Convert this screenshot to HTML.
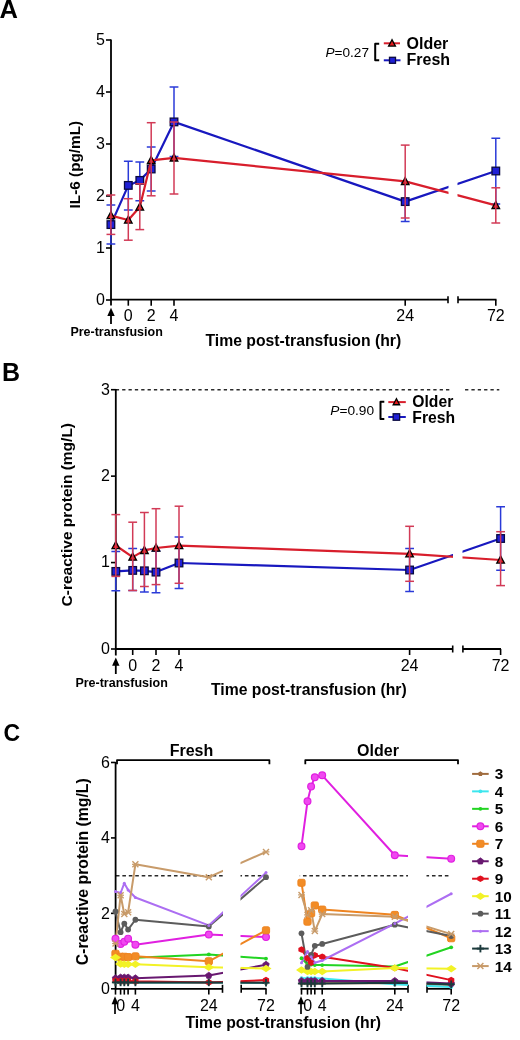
<!DOCTYPE html><html><head><meta charset="utf-8"><style>html,body{margin:0;padding:0;background:#fff;}svg{display:block;filter:blur(0.35px);}text{font-family:"Liberation Sans",sans-serif;}</style></head><body>
<svg width="520" height="1040" viewBox="0 0 520 1040">
<rect width="520" height="1040" fill="#fff"/>
<text x="-0.6" y="18.1" font-size="25.5" text-anchor="start" font-weight="bold" fill="#000"  style="">A</text>
<defs><clipPath id="ca"><rect x="0" y="0" width="448.5" height="1040"/><rect x="457.5" y="0" width="70" height="1040"/></clipPath>
<clipPath id="cb"><rect x="0" y="0" width="453" height="1040"/><rect x="462.5" y="0" width="70" height="1040"/></clipPath><clipPath id="cbd"><rect x="0" y="0" width="451" height="1040"/><rect x="462.8" y="0" width="70" height="1040"/></clipPath>
<clipPath id="cc"><rect x="0" y="0" width="223" height="1040"/><rect x="240.5" y="0" width="27" height="1040"/><rect x="298" y="0" width="110" height="1040"/><rect x="426.5" y="0" width="40" height="1040"/></clipPath><clipPath id="cd"><rect x="0" y="0" width="223" height="1040"/><rect x="240.5" y="0" width="26" height="1040"/><rect x="299.8" y="0" width="108.2" height="1040"/><rect x="426.5" y="0" width="40" height="1040"/></clipPath></defs>
<line x1="111" y1="39.5" x2="111" y2="305.5" stroke="#000" stroke-width="1.8" />
<line x1="106" y1="300" x2="111" y2="300" stroke="#000" stroke-width="1.6" />
<text x="105" y="305.1" font-size="16" text-anchor="end" font-weight="normal" fill="#000"  style="">0</text>
<line x1="106" y1="248" x2="111" y2="248" stroke="#000" stroke-width="1.6" />
<text x="105" y="253.1" font-size="16" text-anchor="end" font-weight="normal" fill="#000"  style="">1</text>
<line x1="106" y1="196" x2="111" y2="196" stroke="#000" stroke-width="1.6" />
<text x="105" y="201.1" font-size="16" text-anchor="end" font-weight="normal" fill="#000"  style="">2</text>
<line x1="106" y1="144" x2="111" y2="144" stroke="#000" stroke-width="1.6" />
<text x="105" y="149.1" font-size="16" text-anchor="end" font-weight="normal" fill="#000"  style="">3</text>
<line x1="106" y1="92" x2="111" y2="92" stroke="#000" stroke-width="1.6" />
<text x="105" y="97.1" font-size="16" text-anchor="end" font-weight="normal" fill="#000"  style="">4</text>
<line x1="106" y1="40" x2="111" y2="40" stroke="#000" stroke-width="1.6" />
<text x="105" y="45.1" font-size="16" text-anchor="end" font-weight="normal" fill="#000"  style="">5</text>
<line x1="111" y1="299.7" x2="448" y2="299.7" stroke="#000" stroke-width="1.8" />
<line x1="448" y1="296.2" x2="448" y2="303.2" stroke="#000" stroke-width="1.6" />
<line x1="458" y1="299.7" x2="496.5" y2="299.7" stroke="#000" stroke-width="1.8" />
<line x1="458" y1="296.2" x2="458" y2="303.2" stroke="#000" stroke-width="1.6" />
<line x1="128.3" y1="299.7" x2="128.3" y2="305.7" stroke="#000" stroke-width="1.6" />
<text x="128.3" y="320.6" font-size="16" text-anchor="middle" font-weight="normal" fill="#000"  style="">0</text>
<line x1="151.2" y1="299.7" x2="151.2" y2="305.7" stroke="#000" stroke-width="1.6" />
<text x="151.2" y="320.6" font-size="16" text-anchor="middle" font-weight="normal" fill="#000"  style="">2</text>
<line x1="174" y1="299.7" x2="174" y2="305.7" stroke="#000" stroke-width="1.6" />
<text x="174" y="320.6" font-size="16" text-anchor="middle" font-weight="normal" fill="#000"  style="">4</text>
<line x1="405.2" y1="299.7" x2="405.2" y2="305.7" stroke="#000" stroke-width="1.6" />
<text x="405.2" y="320.6" font-size="16" text-anchor="middle" font-weight="normal" fill="#000"  style="">24</text>
<line x1="495.8" y1="299.7" x2="495.8" y2="305.7" stroke="#000" stroke-width="1.6" />
<text x="495.8" y="320.6" font-size="16" text-anchor="middle" font-weight="normal" fill="#000"  style="">72</text>
<line x1="111" y1="313" x2="111" y2="324" stroke="#000" stroke-width="1.8" />
<polygon points="111,307.8 107.3,316 114.7,316" fill="#000"/>
<text x="70.4" y="336.4" font-size="12.5" text-anchor="start" font-weight="bold" fill="#000"  style="">Pre-transfusion</text>
<text x="205.5" y="346" font-size="15.75" text-anchor="start" font-weight="bold" fill="#000"  style="">Time post-transfusion (hr)</text>
<text x="80.4" y="164.6" font-size="15.3" text-anchor="middle" font-weight="bold" fill="#000" transform="rotate(-90 80.4 164.6)" style="">IL-6 (pg/mL)</text>
<g clip-path="url(#ca)">
<line x1="110.9" y1="205" x2="110.9" y2="244" stroke="#2a3ad8" stroke-width="1.5" />
<line x1="106.5" y1="205" x2="115.3" y2="205" stroke="#2a3ad8" stroke-width="1.5" />
<line x1="106.5" y1="244" x2="115.3" y2="244" stroke="#2a3ad8" stroke-width="1.5" />
<line x1="128.3" y1="161.3" x2="128.3" y2="210" stroke="#2a3ad8" stroke-width="1.5" />
<line x1="123.9" y1="161.3" x2="132.7" y2="161.3" stroke="#2a3ad8" stroke-width="1.5" />
<line x1="123.9" y1="210" x2="132.7" y2="210" stroke="#2a3ad8" stroke-width="1.5" />
<line x1="139.8" y1="162" x2="139.8" y2="200.8" stroke="#2a3ad8" stroke-width="1.5" />
<line x1="135.4" y1="162" x2="144.2" y2="162" stroke="#2a3ad8" stroke-width="1.5" />
<line x1="135.4" y1="200.8" x2="144.2" y2="200.8" stroke="#2a3ad8" stroke-width="1.5" />
<line x1="151.2" y1="147" x2="151.2" y2="191" stroke="#2a3ad8" stroke-width="1.5" />
<line x1="146.8" y1="147" x2="155.6" y2="147" stroke="#2a3ad8" stroke-width="1.5" />
<line x1="146.8" y1="191" x2="155.6" y2="191" stroke="#2a3ad8" stroke-width="1.5" />
<line x1="174" y1="87.1" x2="174" y2="156.5" stroke="#2a3ad8" stroke-width="1.5" />
<line x1="169.6" y1="87.1" x2="178.4" y2="87.1" stroke="#2a3ad8" stroke-width="1.5" />
<line x1="169.6" y1="156.5" x2="178.4" y2="156.5" stroke="#2a3ad8" stroke-width="1.5" />
<line x1="405.2" y1="182" x2="405.2" y2="221.5" stroke="#2a3ad8" stroke-width="1.5" />
<line x1="400.8" y1="182" x2="409.6" y2="182" stroke="#2a3ad8" stroke-width="1.5" />
<line x1="400.8" y1="221.5" x2="409.6" y2="221.5" stroke="#2a3ad8" stroke-width="1.5" />
<line x1="495.8" y1="138.2" x2="495.8" y2="204" stroke="#2a3ad8" stroke-width="1.5" />
<line x1="491.4" y1="138.2" x2="500.2" y2="138.2" stroke="#2a3ad8" stroke-width="1.5" />
<line x1="491.4" y1="204" x2="500.2" y2="204" stroke="#2a3ad8" stroke-width="1.5" />
<polyline points="110.9,224.6 128.3,185.4 139.8,180.4 151.2,169 174,121.9 405.2,201.6 495.8,171" fill="none" stroke="#1818bf" stroke-width="2.2" stroke-linejoin="round" />
</g>
<rect x="107.1" y="220.8" width="7.6" height="7.6" fill="#1f1fd6" stroke="#0a0a40" stroke-width="1.3"/>
<rect x="124.5" y="181.6" width="7.6" height="7.6" fill="#1f1fd6" stroke="#0a0a40" stroke-width="1.3"/>
<rect x="136" y="176.6" width="7.6" height="7.6" fill="#1f1fd6" stroke="#0a0a40" stroke-width="1.3"/>
<rect x="147.4" y="165.2" width="7.6" height="7.6" fill="#1f1fd6" stroke="#0a0a40" stroke-width="1.3"/>
<rect x="170.2" y="118.1" width="7.6" height="7.6" fill="#1f1fd6" stroke="#0a0a40" stroke-width="1.3"/>
<rect x="401.4" y="197.8" width="7.6" height="7.6" fill="#1f1fd6" stroke="#0a0a40" stroke-width="1.3"/>
<rect x="492" y="167.2" width="7.6" height="7.6" fill="#1f1fd6" stroke="#0a0a40" stroke-width="1.3"/>
<g clip-path="url(#ca)">
<polyline points="110.9,215.6 128.3,220 139.8,207 151.2,160.4 174,157.9 405.2,181.4 495.8,205.4" fill="none" stroke="#d81e2c" stroke-width="2.2" stroke-linejoin="round" />
</g>
<polygon points="110.9,211.6 107.1,218.7 114.7,218.7" fill="#e31a1c" stroke="#000" stroke-width="1.3" stroke-linejoin="miter"/>
<polygon points="128.3,216 124.5,223.1 132.1,223.1" fill="#e31a1c" stroke="#000" stroke-width="1.3" stroke-linejoin="miter"/>
<polygon points="139.8,203 136,210.1 143.6,210.1" fill="#e31a1c" stroke="#000" stroke-width="1.3" stroke-linejoin="miter"/>
<polygon points="151.2,156.4 147.4,163.5 155,163.5" fill="#e31a1c" stroke="#000" stroke-width="1.3" stroke-linejoin="miter"/>
<polygon points="174,153.9 170.2,161 177.8,161" fill="#e31a1c" stroke="#000" stroke-width="1.3" stroke-linejoin="miter"/>
<polygon points="405.2,177.4 401.4,184.5 409,184.5" fill="#e31a1c" stroke="#000" stroke-width="1.3" stroke-linejoin="miter"/>
<polygon points="495.8,201.4 492,208.5 499.6,208.5" fill="#e31a1c" stroke="#000" stroke-width="1.3" stroke-linejoin="miter"/>
<line x1="110.9" y1="195" x2="110.9" y2="234.4" stroke="#d23a56" stroke-width="1.5" />
<line x1="106.5" y1="195" x2="115.3" y2="195" stroke="#d23a56" stroke-width="1.5" />
<line x1="106.5" y1="234.4" x2="115.3" y2="234.4" stroke="#d23a56" stroke-width="1.5" />
<line x1="128.3" y1="198.7" x2="128.3" y2="240.2" stroke="#d23a56" stroke-width="1.5" />
<line x1="123.9" y1="198.7" x2="132.7" y2="198.7" stroke="#d23a56" stroke-width="1.5" />
<line x1="123.9" y1="240.2" x2="132.7" y2="240.2" stroke="#d23a56" stroke-width="1.5" />
<line x1="139.8" y1="183.8" x2="139.8" y2="229.6" stroke="#d23a56" stroke-width="1.5" />
<line x1="135.4" y1="183.8" x2="144.2" y2="183.8" stroke="#d23a56" stroke-width="1.5" />
<line x1="135.4" y1="229.6" x2="144.2" y2="229.6" stroke="#d23a56" stroke-width="1.5" />
<line x1="151.2" y1="122.7" x2="151.2" y2="195.8" stroke="#d23a56" stroke-width="1.5" />
<line x1="146.8" y1="122.7" x2="155.6" y2="122.7" stroke="#d23a56" stroke-width="1.5" />
<line x1="146.8" y1="195.8" x2="155.6" y2="195.8" stroke="#d23a56" stroke-width="1.5" />
<line x1="174" y1="122" x2="174" y2="194" stroke="#d23a56" stroke-width="1.5" />
<line x1="169.6" y1="122" x2="178.4" y2="122" stroke="#d23a56" stroke-width="1.5" />
<line x1="169.6" y1="194" x2="178.4" y2="194" stroke="#d23a56" stroke-width="1.5" />
<line x1="405.2" y1="145.1" x2="405.2" y2="218" stroke="#d23a56" stroke-width="1.5" />
<line x1="400.8" y1="145.1" x2="409.6" y2="145.1" stroke="#d23a56" stroke-width="1.5" />
<line x1="400.8" y1="218" x2="409.6" y2="218" stroke="#d23a56" stroke-width="1.5" />
<line x1="495.8" y1="187.8" x2="495.8" y2="223" stroke="#d23a56" stroke-width="1.5" />
<line x1="491.4" y1="187.8" x2="500.2" y2="187.8" stroke="#d23a56" stroke-width="1.5" />
<line x1="491.4" y1="223" x2="500.2" y2="223" stroke="#d23a56" stroke-width="1.5" />
<text x="325.5" y="56.9" font-size="13.6" text-anchor="start" font-weight="normal" fill="#000"  style=""><tspan font-style="italic">P</tspan>=0.27</text>
<polyline points="379.2,43.8 375.2,43.8 375.2,60.2 379.2,60.2" fill="none" stroke="#000" stroke-width="2" stroke-linejoin="round" />
<line x1="383.8" y1="43.3" x2="400" y2="43.3" stroke="#d81e2c" stroke-width="2" />
<polygon points="392,39.7 388.58,46.09 395.42,46.09" fill="#e31a1c" stroke="#000" stroke-width="1.3" stroke-linejoin="miter"/>
<line x1="383.8" y1="60.3" x2="400.5" y2="60.3" stroke="#1818bf" stroke-width="2" />
<rect x="389.5" y="57.3" width="6" height="6" fill="#1f1fd6" stroke="#0a0a40" stroke-width="1.3"/>
<text x="406.5" y="48.7" font-size="16" text-anchor="start" font-weight="bold" fill="#000"  style="">Older</text>
<text x="406.5" y="64.8" font-size="16" text-anchor="start" font-weight="bold" fill="#000"  style="">Fresh</text>
<text x="2" y="380.8" font-size="25" text-anchor="start" font-weight="bold" fill="#000"  style="">B</text>
<g clip-path="url(#cbd)">
<line x1="115.8" y1="389.8" x2="499.3" y2="389.8" stroke="#2a2a2a" stroke-width="1.5" stroke-dasharray="3.3 3.05"/>
</g>
<line x1="115.8" y1="389" x2="115.8" y2="655.5" stroke="#000" stroke-width="1.8" />
<line x1="111" y1="649" x2="115.8" y2="649" stroke="#000" stroke-width="1.6" />
<text x="110" y="653.8" font-size="16" text-anchor="end" font-weight="normal" fill="#000"  style="">0</text>
<line x1="111" y1="562.57" x2="115.8" y2="562.57" stroke="#000" stroke-width="1.6" />
<text x="110" y="567.37" font-size="16" text-anchor="end" font-weight="normal" fill="#000"  style="">1</text>
<line x1="111" y1="476.14" x2="115.8" y2="476.14" stroke="#000" stroke-width="1.6" />
<text x="110" y="480.94" font-size="16" text-anchor="end" font-weight="normal" fill="#000"  style="">2</text>
<line x1="111" y1="389.71" x2="115.8" y2="389.71" stroke="#000" stroke-width="1.6" />
<text x="110" y="394.51" font-size="16" text-anchor="end" font-weight="normal" fill="#000"  style="">3</text>
<line x1="115.8" y1="649" x2="452.7" y2="649" stroke="#000" stroke-width="1.8" />
<line x1="452.7" y1="645.5" x2="452.7" y2="652.5" stroke="#000" stroke-width="1.6" />
<line x1="462.9" y1="649" x2="501" y2="649" stroke="#000" stroke-width="1.8" />
<line x1="462.9" y1="645.5" x2="462.9" y2="652.5" stroke="#000" stroke-width="1.6" />
<line x1="132.7" y1="649" x2="132.7" y2="655" stroke="#000" stroke-width="1.6" />
<text x="132.7" y="670.8" font-size="16" text-anchor="middle" font-weight="normal" fill="#000"  style="">0</text>
<line x1="156" y1="649" x2="156" y2="655" stroke="#000" stroke-width="1.6" />
<text x="156" y="670.8" font-size="16" text-anchor="middle" font-weight="normal" fill="#000"  style="">2</text>
<line x1="179" y1="649" x2="179" y2="655" stroke="#000" stroke-width="1.6" />
<text x="179" y="670.8" font-size="16" text-anchor="middle" font-weight="normal" fill="#000"  style="">4</text>
<line x1="409.6" y1="649" x2="409.6" y2="655" stroke="#000" stroke-width="1.6" />
<text x="409.6" y="670.8" font-size="16" text-anchor="middle" font-weight="normal" fill="#000"  style="">24</text>
<line x1="500.6" y1="649" x2="500.6" y2="655" stroke="#000" stroke-width="1.6" />
<text x="500.6" y="670.8" font-size="16" text-anchor="middle" font-weight="normal" fill="#000"  style="">72</text>
<line x1="115.8" y1="663" x2="115.8" y2="674" stroke="#000" stroke-width="1.8" />
<polygon points="115.8,657.5 112.1,665.7 119.5,665.7" fill="#000"/>
<text x="75.4" y="686.8" font-size="12.5" text-anchor="start" font-weight="bold" fill="#000"  style="">Pre-transfusion</text>
<text x="211" y="695.3" font-size="15.75" text-anchor="start" font-weight="bold" fill="#000"  style="">Time post-transfusion (hr)</text>
<text x="72" y="514.7" font-size="15.5" text-anchor="middle" font-weight="bold" fill="#000" transform="rotate(-90 72 514.7)" style="">C-reactive protein (mg/L)</text>
<g clip-path="url(#cb)">
<line x1="115.8" y1="551.6" x2="115.8" y2="590.8" stroke="#2a3ad8" stroke-width="1.5" />
<line x1="111.4" y1="551.6" x2="120.2" y2="551.6" stroke="#2a3ad8" stroke-width="1.5" />
<line x1="111.4" y1="590.8" x2="120.2" y2="590.8" stroke="#2a3ad8" stroke-width="1.5" />
<line x1="132.7" y1="548.5" x2="132.7" y2="590.5" stroke="#2a3ad8" stroke-width="1.5" />
<line x1="128.3" y1="548.5" x2="137.1" y2="548.5" stroke="#2a3ad8" stroke-width="1.5" />
<line x1="128.3" y1="590.5" x2="137.1" y2="590.5" stroke="#2a3ad8" stroke-width="1.5" />
<line x1="144.4" y1="549.5" x2="144.4" y2="592" stroke="#2a3ad8" stroke-width="1.5" />
<line x1="140" y1="549.5" x2="148.8" y2="549.5" stroke="#2a3ad8" stroke-width="1.5" />
<line x1="140" y1="592" x2="148.8" y2="592" stroke="#2a3ad8" stroke-width="1.5" />
<line x1="156" y1="551" x2="156" y2="592.7" stroke="#2a3ad8" stroke-width="1.5" />
<line x1="151.6" y1="551" x2="160.4" y2="551" stroke="#2a3ad8" stroke-width="1.5" />
<line x1="151.6" y1="592.7" x2="160.4" y2="592.7" stroke="#2a3ad8" stroke-width="1.5" />
<line x1="179" y1="537" x2="179" y2="588.5" stroke="#2a3ad8" stroke-width="1.5" />
<line x1="174.6" y1="537" x2="183.4" y2="537" stroke="#2a3ad8" stroke-width="1.5" />
<line x1="174.6" y1="588.5" x2="183.4" y2="588.5" stroke="#2a3ad8" stroke-width="1.5" />
<line x1="409.6" y1="548.4" x2="409.6" y2="591.5" stroke="#2a3ad8" stroke-width="1.5" />
<line x1="405.2" y1="548.4" x2="414" y2="548.4" stroke="#2a3ad8" stroke-width="1.5" />
<line x1="405.2" y1="591.5" x2="414" y2="591.5" stroke="#2a3ad8" stroke-width="1.5" />
<line x1="500.6" y1="506.7" x2="500.6" y2="570.2" stroke="#2a3ad8" stroke-width="1.5" />
<line x1="496.2" y1="506.7" x2="505" y2="506.7" stroke="#2a3ad8" stroke-width="1.5" />
<line x1="496.2" y1="570.2" x2="505" y2="570.2" stroke="#2a3ad8" stroke-width="1.5" />
<polyline points="115.8,571.4 132.7,570.4 144.4,570.8 156,572.1 179,563 409.6,570 500.6,538.5" fill="none" stroke="#1818bf" stroke-width="2.2" stroke-linejoin="round" />
</g>
<rect x="112" y="567.6" width="7.6" height="7.6" fill="#1f1fd6" stroke="#0a0a40" stroke-width="1.3"/>
<rect x="128.9" y="566.6" width="7.6" height="7.6" fill="#1f1fd6" stroke="#0a0a40" stroke-width="1.3"/>
<rect x="140.6" y="567" width="7.6" height="7.6" fill="#1f1fd6" stroke="#0a0a40" stroke-width="1.3"/>
<rect x="152.2" y="568.3" width="7.6" height="7.6" fill="#1f1fd6" stroke="#0a0a40" stroke-width="1.3"/>
<rect x="175.2" y="559.2" width="7.6" height="7.6" fill="#1f1fd6" stroke="#0a0a40" stroke-width="1.3"/>
<rect x="405.8" y="566.2" width="7.6" height="7.6" fill="#1f1fd6" stroke="#0a0a40" stroke-width="1.3"/>
<rect x="496.8" y="534.7" width="7.6" height="7.6" fill="#1f1fd6" stroke="#0a0a40" stroke-width="1.3"/>
<g clip-path="url(#cb)">
<polyline points="115.8,545.5 132.7,557.1 144.4,550.4 156,548 179,545.6 409.6,553.8 500.6,560" fill="none" stroke="#d81e2c" stroke-width="2.2" stroke-linejoin="round" />
</g>
<polygon points="115.8,541.5 112,548.6 119.6,548.6" fill="#e31a1c" stroke="#000" stroke-width="1.3" stroke-linejoin="miter"/>
<polygon points="132.7,553.1 128.9,560.2 136.5,560.2" fill="#e31a1c" stroke="#000" stroke-width="1.3" stroke-linejoin="miter"/>
<polygon points="144.4,546.4 140.6,553.5 148.2,553.5" fill="#e31a1c" stroke="#000" stroke-width="1.3" stroke-linejoin="miter"/>
<polygon points="156,544 152.2,551.1 159.8,551.1" fill="#e31a1c" stroke="#000" stroke-width="1.3" stroke-linejoin="miter"/>
<polygon points="179,541.6 175.2,548.7 182.8,548.7" fill="#e31a1c" stroke="#000" stroke-width="1.3" stroke-linejoin="miter"/>
<polygon points="409.6,549.8 405.8,556.9 413.4,556.9" fill="#e31a1c" stroke="#000" stroke-width="1.3" stroke-linejoin="miter"/>
<polygon points="500.6,556 496.8,563.1 504.4,563.1" fill="#e31a1c" stroke="#000" stroke-width="1.3" stroke-linejoin="miter"/>
<line x1="115.8" y1="514.6" x2="115.8" y2="576.4" stroke="#d23a56" stroke-width="1.5" />
<line x1="111.4" y1="514.6" x2="120.2" y2="514.6" stroke="#d23a56" stroke-width="1.5" />
<line x1="111.4" y1="576.4" x2="120.2" y2="576.4" stroke="#d23a56" stroke-width="1.5" />
<line x1="132.7" y1="522.2" x2="132.7" y2="590.5" stroke="#d23a56" stroke-width="1.5" />
<line x1="128.3" y1="522.2" x2="137.1" y2="522.2" stroke="#d23a56" stroke-width="1.5" />
<line x1="128.3" y1="590.5" x2="137.1" y2="590.5" stroke="#d23a56" stroke-width="1.5" />
<line x1="144.4" y1="512.5" x2="144.4" y2="586.5" stroke="#d23a56" stroke-width="1.5" />
<line x1="140" y1="512.5" x2="148.8" y2="512.5" stroke="#d23a56" stroke-width="1.5" />
<line x1="140" y1="586.5" x2="148.8" y2="586.5" stroke="#d23a56" stroke-width="1.5" />
<line x1="156" y1="508.7" x2="156" y2="584.6" stroke="#d23a56" stroke-width="1.5" />
<line x1="151.6" y1="508.7" x2="160.4" y2="508.7" stroke="#d23a56" stroke-width="1.5" />
<line x1="151.6" y1="584.6" x2="160.4" y2="584.6" stroke="#d23a56" stroke-width="1.5" />
<line x1="179" y1="506.2" x2="179" y2="583.3" stroke="#d23a56" stroke-width="1.5" />
<line x1="174.6" y1="506.2" x2="183.4" y2="506.2" stroke="#d23a56" stroke-width="1.5" />
<line x1="174.6" y1="583.3" x2="183.4" y2="583.3" stroke="#d23a56" stroke-width="1.5" />
<line x1="409.6" y1="526.3" x2="409.6" y2="581.3" stroke="#d23a56" stroke-width="1.5" />
<line x1="405.2" y1="526.3" x2="414" y2="526.3" stroke="#d23a56" stroke-width="1.5" />
<line x1="405.2" y1="581.3" x2="414" y2="581.3" stroke="#d23a56" stroke-width="1.5" />
<line x1="500.6" y1="531.7" x2="500.6" y2="585.6" stroke="#d23a56" stroke-width="1.5" />
<line x1="496.2" y1="531.7" x2="505" y2="531.7" stroke="#d23a56" stroke-width="1.5" />
<line x1="496.2" y1="585.6" x2="505" y2="585.6" stroke="#d23a56" stroke-width="1.5" />
<text x="330.3" y="415.1" font-size="13.7" text-anchor="start" font-weight="normal" fill="#000"  style=""><tspan font-style="italic">P</tspan>=0.90</text>
<polyline points="384.3,401.8 380.5,401.8 380.5,419 384.3,419" fill="none" stroke="#000" stroke-width="2" stroke-linejoin="round" />
<line x1="388.3" y1="402.1" x2="405.8" y2="402.1" stroke="#d81e2c" stroke-width="2" />
<polygon points="396.4,398.7 393.17,404.74 399.63,404.74" fill="#e31a1c" stroke="#000" stroke-width="1.3" stroke-linejoin="miter"/>
<line x1="388.3" y1="417" x2="405.8" y2="417" stroke="#1818bf" stroke-width="2" />
<rect x="393.15" y="413.75" width="6.5" height="6.5" fill="#1f1fd6" stroke="#0a0a40" stroke-width="1.3"/>
<text x="412.3" y="406.5" font-size="15.7" text-anchor="start" font-weight="bold" fill="#000"  style="">Older</text>
<text x="412.3" y="423" font-size="15.7" text-anchor="start" font-weight="bold" fill="#000"  style="">Fresh</text>
<text x="3.6" y="741.4" font-size="23" text-anchor="start" font-weight="bold" fill="#000"  style="">C</text>
<polyline points="117,764.3 117,760.1 269.4,760.1 269.4,764.3" fill="none" stroke="#000" stroke-width="1.8" stroke-linejoin="round" />
<text x="191.5" y="756" font-size="16" text-anchor="middle" font-weight="bold" fill="#000"  style="">Fresh</text>
<polyline points="305.3,764.3 305.3,760.1 458,760.1 458,764.3" fill="none" stroke="#000" stroke-width="1.8" stroke-linejoin="round" />
<text x="378" y="756.2" font-size="16" text-anchor="middle" font-weight="bold" fill="#000"  style="">Older</text>
<g clip-path="url(#cd)">
<line x1="115.6" y1="875.8" x2="449.2" y2="875.8" stroke="#2a2a2a" stroke-width="1.5" stroke-dasharray="3.6 2.85" stroke-dashoffset="-0.3"/>
</g>
<line x1="115.6" y1="762" x2="115.6" y2="989.55" stroke="#000" stroke-width="1.8" />
<line x1="111" y1="988.8" x2="115.6" y2="988.8" stroke="#000" stroke-width="1.6" />
<text x="110" y="994.1" font-size="16" text-anchor="end" font-weight="normal" fill="#000"  style="">0</text>
<line x1="111" y1="913.36" x2="115.6" y2="913.36" stroke="#000" stroke-width="1.6" />
<text x="110" y="918.66" font-size="16" text-anchor="end" font-weight="normal" fill="#000"  style="">2</text>
<line x1="111" y1="837.92" x2="115.6" y2="837.92" stroke="#000" stroke-width="1.6" />
<text x="110" y="843.22" font-size="16" text-anchor="end" font-weight="normal" fill="#000"  style="">4</text>
<line x1="111" y1="762.48" x2="115.6" y2="762.48" stroke="#000" stroke-width="1.6" />
<text x="110" y="767.78" font-size="16" text-anchor="end" font-weight="normal" fill="#000"  style="">6</text>
<text x="88.2" y="871.8" font-size="15.8" text-anchor="middle" font-weight="bold" fill="#000" transform="rotate(-90 88.2 871.8)" style="">C-reactive protein (mg/L)</text>
<line x1="115.6" y1="988.8" x2="222.5" y2="988.8" stroke="#000" stroke-width="1.8" />
<line x1="222.5" y1="984.8" x2="222.5" y2="992.8" stroke="#000" stroke-width="1.6" />
<line x1="241.2" y1="988.8" x2="266.5" y2="988.8" stroke="#000" stroke-width="1.8" />
<line x1="241.2" y1="984.8" x2="241.2" y2="992.8" stroke="#000" stroke-width="1.6" />
<line x1="300.5" y1="988.8" x2="408" y2="988.8" stroke="#000" stroke-width="1.8" />
<line x1="408" y1="984.8" x2="408" y2="992.8" stroke="#000" stroke-width="1.6" />
<line x1="427" y1="988.8" x2="452" y2="988.8" stroke="#000" stroke-width="1.8" />
<line x1="427" y1="984.8" x2="427" y2="992.8" stroke="#000" stroke-width="1.6" />
<line x1="120.6" y1="988.8" x2="120.6" y2="994.6" stroke="#000" stroke-width="1.6" />
<line x1="124.3" y1="988.8" x2="124.3" y2="994.6" stroke="#000" stroke-width="1.6" />
<line x1="128.1" y1="988.8" x2="128.1" y2="994.6" stroke="#000" stroke-width="1.6" />
<line x1="135.4" y1="988.8" x2="135.4" y2="994.6" stroke="#000" stroke-width="1.6" />
<line x1="208.8" y1="988.8" x2="208.8" y2="994.6" stroke="#000" stroke-width="1.6" />
<line x1="266" y1="988.8" x2="266" y2="994.6" stroke="#000" stroke-width="1.6" />
<line x1="115.5" y1="988.8" x2="115.5" y2="994.6" stroke="#000" stroke-width="1.6" />
<text x="120.8" y="1011.4" font-size="16" text-anchor="middle" font-weight="normal" fill="#000"  style="">0</text>
<text x="135.4" y="1011.4" font-size="16" text-anchor="middle" font-weight="normal" fill="#000"  style="">4</text>
<text x="208.8" y="1011.4" font-size="16" text-anchor="middle" font-weight="normal" fill="#000"  style="">24</text>
<text x="266" y="1011.4" font-size="16" text-anchor="middle" font-weight="normal" fill="#000"  style="">72</text>
<line x1="115" y1="1000" x2="115" y2="1014" stroke="#000" stroke-width="1.7" />
<polygon points="115,996.3 111.6,1004.3 118.4,1004.3" fill="#000"/>
<line x1="307.5" y1="988.8" x2="307.5" y2="994.6" stroke="#000" stroke-width="1.6" />
<line x1="311.1" y1="988.8" x2="311.1" y2="994.6" stroke="#000" stroke-width="1.6" />
<line x1="314.8" y1="988.8" x2="314.8" y2="994.6" stroke="#000" stroke-width="1.6" />
<line x1="322.2" y1="988.8" x2="322.2" y2="994.6" stroke="#000" stroke-width="1.6" />
<line x1="394.8" y1="988.8" x2="394.8" y2="994.6" stroke="#000" stroke-width="1.6" />
<line x1="451.2" y1="988.8" x2="451.2" y2="994.6" stroke="#000" stroke-width="1.6" />
<line x1="301.5" y1="988.8" x2="301.5" y2="994.6" stroke="#000" stroke-width="1.6" />
<text x="307.7" y="1011.4" font-size="16" text-anchor="middle" font-weight="normal" fill="#000"  style="">0</text>
<text x="322.2" y="1011.4" font-size="16" text-anchor="middle" font-weight="normal" fill="#000"  style="">4</text>
<text x="394.8" y="1011.4" font-size="16" text-anchor="middle" font-weight="normal" fill="#000"  style="">24</text>
<text x="451.2" y="1011.4" font-size="16" text-anchor="middle" font-weight="normal" fill="#000"  style="">72</text>
<line x1="301" y1="1000" x2="301" y2="1014" stroke="#000" stroke-width="1.7" />
<polygon points="301,996.3 297.6,1004.3 304.4,1004.3" fill="#000"/>
<text x="185.4" y="1028" font-size="15.75" text-anchor="start" font-weight="bold" fill="#000"  style="">Time post-transfusion (hr)</text>
<g clip-path="url(#cc)">
<polyline points="115.5,982.39 120.6,982.39 124.3,982.39 128.1,982.39 135.4,982.39 208.8,982.39 266,982.76" fill="none" stroke="#a06c3e" stroke-width="2.0" stroke-linejoin="round" />
<polyline points="301.5,983.14 307.5,983.14 311.1,983.14 314.8,983.14 322.2,983.14 394.8,983.14 451.2,985.03" fill="none" stroke="#a06c3e" stroke-width="2.0" stroke-linejoin="round" />
<polyline points="115.5,982.39 120.6,982.39 124.3,982.39 128.1,982.39 135.4,982.39 208.8,982.39 266,982.76" fill="none" stroke="#3ce6ee" stroke-width="2.0" stroke-linejoin="round" />
<polyline points="301.5,978.24 307.5,978.24 311.1,978.24 314.8,978.24 322.2,978.62 394.8,984.27 451.2,986.91" fill="none" stroke="#3ce6ee" stroke-width="2.0" stroke-linejoin="round" />
<polyline points="115.5,957.87 120.6,958.62 124.3,958.62 128.1,958.62 135.4,957.87 208.8,954.47 266,958.62" fill="none" stroke="#22d422" stroke-width="2.0" stroke-linejoin="round" />
<polyline points="301.5,958.25 307.5,964.28 311.1,964.66 314.8,965.04 322.2,965.04 394.8,966.55 451.2,947.31" fill="none" stroke="#22d422" stroke-width="2.0" stroke-linejoin="round" />
<polyline points="115.5,938.63 120.6,943.91 124.3,941.65 128.1,938.63 135.4,944.67 208.8,934.48 266,937.12" fill="none" stroke="#e020e0" stroke-width="2.0" stroke-linejoin="round" />
<polyline points="301.5,846.22 307.5,801.33 311.1,786.62 314.8,777.19 322.2,775.3 394.8,855.27 451.2,858.67" fill="none" stroke="#e020e0" stroke-width="2.0" stroke-linejoin="round" />
<polyline points="115.5,953.72 120.6,956.74 124.3,956.74 128.1,957.12 135.4,956.36 208.8,961.26 266,930.33" fill="none" stroke="#ee8420" stroke-width="2.0" stroke-linejoin="round" />
<polyline points="301.5,882.81 307.5,921.66 311.1,913.36 314.8,905.44 322.2,909.59 394.8,914.87 451.2,938.26" fill="none" stroke="#ee8420" stroke-width="2.0" stroke-linejoin="round" />
<polyline points="115.5,978.24 120.6,977.48 124.3,977.48 128.1,977.48 135.4,978.24 208.8,975.6 266,964.66" fill="none" stroke="#681870" stroke-width="2.0" stroke-linejoin="round" />
<polyline points="301.5,980.88 307.5,980.88 311.1,980.88 314.8,980.88 322.2,980.88 394.8,980.88 451.2,983.52" fill="none" stroke="#681870" stroke-width="2.0" stroke-linejoin="round" />
<polyline points="115.5,980.5 120.6,980.88 124.3,980.88 128.1,980.88 135.4,981.26 208.8,982.39 266,980.12" fill="none" stroke="#e0101e" stroke-width="2.0" stroke-linejoin="round" />
<polyline points="301.5,949.57 307.5,958.25 311.1,962.77 314.8,955.23 322.2,956.74 394.8,968.05 451.2,980.12" fill="none" stroke="#e0101e" stroke-width="2.0" stroke-linejoin="round" />
<polyline points="115.5,957.49 120.6,963.9 124.3,964.28 128.1,964.28 135.4,964.28 208.8,967.3 266,968.43" fill="none" stroke="#f2f226" stroke-width="2.0" stroke-linejoin="round" />
<polyline points="301.5,969.94 307.5,971.45 311.1,971.45 314.8,971.45 322.2,971.45 394.8,968.05 451.2,968.81" fill="none" stroke="#f2f226" stroke-width="2.0" stroke-linejoin="round" />
<polyline points="115.5,911.47 120.6,932.22 124.3,923.54 128.1,929.58 135.4,919.77 208.8,926.56 266,877.15" fill="none" stroke="#5c5c5c" stroke-width="2.0" stroke-linejoin="round" />
<polyline points="301.5,933.35 307.5,966.92 311.1,954.85 314.8,945.8 322.2,943.91 394.8,924.68 451.2,935.99" fill="none" stroke="#5c5c5c" stroke-width="2.0" stroke-linejoin="round" />
<polyline points="115.5,891.48 120.6,892.99 124.3,883.18 128.1,889.97 135.4,897.52 208.8,925.43 266,872.62" fill="none" stroke="#ac6ef2" stroke-width="2.0" stroke-linejoin="round" />
<polyline points="301.5,962.77 307.5,951.46 311.1,956.74 314.8,962.77 322.2,960.51 394.8,923.54 451.2,893.75" fill="none" stroke="#ac6ef2" stroke-width="2.0" stroke-linejoin="round" />
<polyline points="115.5,982.39 120.6,982.39 124.3,982.39 128.1,982.39 135.4,982.39 208.8,982.39 266,982.76" fill="none" stroke="#1c3a3c" stroke-width="2.0" stroke-linejoin="round" />
<polyline points="301.5,983.52 307.5,983.52 311.1,983.52 314.8,983.52 322.2,983.52 394.8,982.76 451.2,984.27" fill="none" stroke="#1c3a3c" stroke-width="2.0" stroke-linejoin="round" />
<polyline points="115.5,943.54 120.6,895.25 124.3,914.11 128.1,912.23 135.4,864.32 208.8,877.15 266,851.88" fill="none" stroke="#c89b6a" stroke-width="2.0" stroke-linejoin="round" />
<polyline points="301.5,894.88 307.5,914.87 311.1,910.34 314.8,931.09 322.2,914.11 394.8,916.75 451.2,934.11" fill="none" stroke="#c89b6a" stroke-width="2.0" stroke-linejoin="round" />
</g>
<polygon points="115.5,979.79 117.97,981.58 117.03,984.49 113.97,984.49 113.03,981.58" fill="#a06c3e"/>
<polygon points="301.5,980.54 303.97,982.34 303.03,985.25 299.97,985.25 299.03,982.34" fill="#a06c3e"/>
<polygon points="120.6,979.79 123.07,981.58 122.13,984.49 119.07,984.49 118.13,981.58" fill="#a06c3e"/>
<polygon points="307.5,980.54 309.97,982.34 309.03,985.25 305.97,985.25 305.03,982.34" fill="#a06c3e"/>
<polygon points="124.3,979.79 126.77,981.58 125.83,984.49 122.77,984.49 121.83,981.58" fill="#a06c3e"/>
<polygon points="311.1,980.54 313.57,982.34 312.63,985.25 309.57,985.25 308.63,982.34" fill="#a06c3e"/>
<polygon points="128.1,979.79 130.57,981.58 129.63,984.49 126.57,984.49 125.63,981.58" fill="#a06c3e"/>
<polygon points="314.8,980.54 317.27,982.34 316.33,985.25 313.27,985.25 312.33,982.34" fill="#a06c3e"/>
<polygon points="135.4,979.79 137.87,981.58 136.93,984.49 133.87,984.49 132.93,981.58" fill="#a06c3e"/>
<polygon points="322.2,980.54 324.67,982.34 323.73,985.25 320.67,985.25 319.73,982.34" fill="#a06c3e"/>
<polygon points="208.8,979.79 211.27,981.58 210.33,984.49 207.27,984.49 206.33,981.58" fill="#a06c3e"/>
<polygon points="394.8,980.54 397.27,982.34 396.33,985.25 393.27,985.25 392.33,982.34" fill="#a06c3e"/>
<polygon points="266,980.16 268.47,981.96 267.53,984.87 264.47,984.87 263.53,981.96" fill="#a06c3e"/>
<polygon points="451.2,982.43 453.67,984.22 452.73,987.13 449.67,987.13 448.73,984.22" fill="#a06c3e"/>
<circle cx="115.5" cy="982.39" r="1.9" fill="#3ce6ee"/>
<circle cx="301.5" cy="978.24" r="1.9" fill="#3ce6ee"/>
<circle cx="120.6" cy="982.39" r="1.9" fill="#3ce6ee"/>
<circle cx="307.5" cy="978.24" r="1.9" fill="#3ce6ee"/>
<circle cx="124.3" cy="982.39" r="1.9" fill="#3ce6ee"/>
<circle cx="311.1" cy="978.24" r="1.9" fill="#3ce6ee"/>
<circle cx="128.1" cy="982.39" r="1.9" fill="#3ce6ee"/>
<circle cx="314.8" cy="978.24" r="1.9" fill="#3ce6ee"/>
<circle cx="135.4" cy="982.39" r="1.9" fill="#3ce6ee"/>
<circle cx="322.2" cy="978.62" r="1.9" fill="#3ce6ee"/>
<circle cx="208.8" cy="982.39" r="1.9" fill="#3ce6ee"/>
<circle cx="394.8" cy="984.27" r="1.9" fill="#3ce6ee"/>
<circle cx="266" cy="982.76" r="1.9" fill="#3ce6ee"/>
<circle cx="451.2" cy="986.91" r="1.9" fill="#3ce6ee"/>
<circle cx="115.5" cy="957.87" r="1.9" fill="#22d422"/>
<circle cx="301.5" cy="958.25" r="1.9" fill="#22d422"/>
<circle cx="120.6" cy="958.62" r="1.9" fill="#22d422"/>
<circle cx="307.5" cy="964.28" r="1.9" fill="#22d422"/>
<circle cx="124.3" cy="958.62" r="1.9" fill="#22d422"/>
<circle cx="311.1" cy="964.66" r="1.9" fill="#22d422"/>
<circle cx="128.1" cy="958.62" r="1.9" fill="#22d422"/>
<circle cx="314.8" cy="965.04" r="1.9" fill="#22d422"/>
<circle cx="135.4" cy="957.87" r="1.9" fill="#22d422"/>
<circle cx="322.2" cy="965.04" r="1.9" fill="#22d422"/>
<circle cx="208.8" cy="954.47" r="1.9" fill="#22d422"/>
<circle cx="394.8" cy="966.55" r="1.9" fill="#22d422"/>
<circle cx="266" cy="958.62" r="1.9" fill="#22d422"/>
<circle cx="451.2" cy="947.31" r="1.9" fill="#22d422"/>
<circle cx="115.5" cy="938.63" r="3.4" fill="#f048f0" stroke="#e020e0" stroke-width="1.2"/>
<circle cx="301.5" cy="846.22" r="3.4" fill="#f048f0" stroke="#e020e0" stroke-width="1.2"/>
<circle cx="120.6" cy="943.91" r="3.4" fill="#f048f0" stroke="#e020e0" stroke-width="1.2"/>
<circle cx="307.5" cy="801.33" r="3.4" fill="#f048f0" stroke="#e020e0" stroke-width="1.2"/>
<circle cx="124.3" cy="941.65" r="3.4" fill="#f048f0" stroke="#e020e0" stroke-width="1.2"/>
<circle cx="311.1" cy="786.62" r="3.4" fill="#f048f0" stroke="#e020e0" stroke-width="1.2"/>
<circle cx="128.1" cy="938.63" r="3.4" fill="#f048f0" stroke="#e020e0" stroke-width="1.2"/>
<circle cx="314.8" cy="777.19" r="3.4" fill="#f048f0" stroke="#e020e0" stroke-width="1.2"/>
<circle cx="135.4" cy="944.67" r="3.4" fill="#f048f0" stroke="#e020e0" stroke-width="1.2"/>
<circle cx="322.2" cy="775.3" r="3.4" fill="#f048f0" stroke="#e020e0" stroke-width="1.2"/>
<circle cx="208.8" cy="934.48" r="3.4" fill="#f048f0" stroke="#e020e0" stroke-width="1.2"/>
<circle cx="394.8" cy="855.27" r="3.4" fill="#f048f0" stroke="#e020e0" stroke-width="1.2"/>
<circle cx="266" cy="937.12" r="3.4" fill="#f048f0" stroke="#e020e0" stroke-width="1.2"/>
<circle cx="451.2" cy="858.67" r="3.4" fill="#f048f0" stroke="#e020e0" stroke-width="1.2"/>
<rect x="111.9" y="950.22" width="7.2" height="7" rx="1.6" fill="#f28c26" stroke="#ee8420" stroke-width="1"/>
<rect x="297.9" y="879.31" width="7.2" height="7" rx="1.6" fill="#f28c26" stroke="#ee8420" stroke-width="1"/>
<rect x="117" y="953.24" width="7.2" height="7" rx="1.6" fill="#f28c26" stroke="#ee8420" stroke-width="1"/>
<rect x="303.9" y="918.16" width="7.2" height="7" rx="1.6" fill="#f28c26" stroke="#ee8420" stroke-width="1"/>
<rect x="120.7" y="953.24" width="7.2" height="7" rx="1.6" fill="#f28c26" stroke="#ee8420" stroke-width="1"/>
<rect x="307.5" y="909.86" width="7.2" height="7" rx="1.6" fill="#f28c26" stroke="#ee8420" stroke-width="1"/>
<rect x="124.5" y="953.62" width="7.2" height="7" rx="1.6" fill="#f28c26" stroke="#ee8420" stroke-width="1"/>
<rect x="311.2" y="901.94" width="7.2" height="7" rx="1.6" fill="#f28c26" stroke="#ee8420" stroke-width="1"/>
<rect x="131.8" y="952.86" width="7.2" height="7" rx="1.6" fill="#f28c26" stroke="#ee8420" stroke-width="1"/>
<rect x="318.6" y="906.09" width="7.2" height="7" rx="1.6" fill="#f28c26" stroke="#ee8420" stroke-width="1"/>
<rect x="205.2" y="957.76" width="7.2" height="7" rx="1.6" fill="#f28c26" stroke="#ee8420" stroke-width="1"/>
<rect x="391.2" y="911.37" width="7.2" height="7" rx="1.6" fill="#f28c26" stroke="#ee8420" stroke-width="1"/>
<rect x="262.4" y="926.83" width="7.2" height="7" rx="1.6" fill="#f28c26" stroke="#ee8420" stroke-width="1"/>
<rect x="447.6" y="934.76" width="7.2" height="7" rx="1.6" fill="#f28c26" stroke="#ee8420" stroke-width="1"/>
<polygon points="115.5,974.84 118.73,977.19 117.5,980.99 113.5,980.99 112.27,977.19" fill="#681870" stroke="#681870" stroke-width="0.8"/>
<polygon points="301.5,977.48 304.73,979.83 303.5,983.63 299.5,983.63 298.27,979.83" fill="#681870" stroke="#681870" stroke-width="0.8"/>
<polygon points="120.6,974.08 123.83,976.43 122.6,980.23 118.6,980.23 117.37,976.43" fill="#681870" stroke="#681870" stroke-width="0.8"/>
<polygon points="307.5,977.48 310.73,979.83 309.5,983.63 305.5,983.63 304.27,979.83" fill="#681870" stroke="#681870" stroke-width="0.8"/>
<polygon points="124.3,974.08 127.53,976.43 126.3,980.23 122.3,980.23 121.07,976.43" fill="#681870" stroke="#681870" stroke-width="0.8"/>
<polygon points="311.1,977.48 314.33,979.83 313.1,983.63 309.1,983.63 307.87,979.83" fill="#681870" stroke="#681870" stroke-width="0.8"/>
<polygon points="128.1,974.08 131.33,976.43 130.1,980.23 126.1,980.23 124.87,976.43" fill="#681870" stroke="#681870" stroke-width="0.8"/>
<polygon points="314.8,977.48 318.03,979.83 316.8,983.63 312.8,983.63 311.57,979.83" fill="#681870" stroke="#681870" stroke-width="0.8"/>
<polygon points="135.4,974.84 138.63,977.19 137.4,980.99 133.4,980.99 132.17,977.19" fill="#681870" stroke="#681870" stroke-width="0.8"/>
<polygon points="322.2,977.48 325.43,979.83 324.2,983.63 320.2,983.63 318.97,979.83" fill="#681870" stroke="#681870" stroke-width="0.8"/>
<polygon points="208.8,972.2 212.03,974.55 210.8,978.35 206.8,978.35 205.57,974.55" fill="#681870" stroke="#681870" stroke-width="0.8"/>
<polygon points="394.8,977.48 398.03,979.83 396.8,983.63 392.8,983.63 391.57,979.83" fill="#681870" stroke="#681870" stroke-width="0.8"/>
<polygon points="266,961.26 269.23,963.61 268,967.41 264,967.41 262.77,963.61" fill="#681870" stroke="#681870" stroke-width="0.8"/>
<polygon points="451.2,980.12 454.43,982.47 453.2,986.27 449.2,986.27 447.97,982.47" fill="#681870" stroke="#681870" stroke-width="0.8"/>
<polygon points="118.62,982.15 115.5,983.8 112.38,982.15 112.38,978.85 115.5,977.2 118.62,978.85" fill="#e0101e"/>
<polygon points="304.62,951.22 301.5,952.87 298.38,951.22 298.38,947.92 301.5,946.27 304.62,947.92" fill="#e0101e"/>
<polygon points="123.72,982.53 120.6,984.18 117.48,982.53 117.48,979.23 120.6,977.58 123.72,979.23" fill="#e0101e"/>
<polygon points="310.62,959.9 307.5,961.55 304.38,959.9 304.38,956.6 307.5,954.95 310.62,956.6" fill="#e0101e"/>
<polygon points="127.42,982.53 124.3,984.18 121.18,982.53 121.18,979.23 124.3,977.58 127.42,979.23" fill="#e0101e"/>
<polygon points="314.22,964.42 311.1,966.07 307.98,964.42 307.98,961.12 311.1,959.47 314.22,961.12" fill="#e0101e"/>
<polygon points="131.22,982.53 128.1,984.18 124.98,982.53 124.98,979.23 128.1,977.58 131.22,979.23" fill="#e0101e"/>
<polygon points="317.92,956.88 314.8,958.53 311.68,956.88 311.68,953.58 314.8,951.93 317.92,953.58" fill="#e0101e"/>
<polygon points="138.52,982.91 135.4,984.56 132.28,982.91 132.28,979.61 135.4,977.96 138.52,979.61" fill="#e0101e"/>
<polygon points="325.32,958.39 322.2,960.04 319.08,958.39 319.08,955.09 322.2,953.44 325.32,955.09" fill="#e0101e"/>
<polygon points="211.92,984.04 208.8,985.69 205.68,984.04 205.68,980.74 208.8,979.09 211.92,980.74" fill="#e0101e"/>
<polygon points="397.92,969.7 394.8,971.35 391.68,969.7 391.68,966.4 394.8,964.75 397.92,966.4" fill="#e0101e"/>
<polygon points="269.12,981.77 266,983.42 262.88,981.77 262.88,978.47 266,976.82 269.12,978.47" fill="#e0101e"/>
<polygon points="454.32,981.77 451.2,983.42 448.08,981.77 448.08,978.47 451.2,976.82 454.32,978.47" fill="#e0101e"/>
<polygon points="110,957.49 115.5,953.69 121,957.49 115.5,961.29" fill="#f2f226"/>
<polygon points="296,969.94 301.5,966.14 307,969.94 301.5,973.74" fill="#f2f226"/>
<polygon points="115.1,963.9 120.6,960.1 126.1,963.9 120.6,967.7" fill="#f2f226"/>
<polygon points="302,971.45 307.5,967.65 313,971.45 307.5,975.25" fill="#f2f226"/>
<polygon points="118.8,964.28 124.3,960.48 129.8,964.28 124.3,968.08" fill="#f2f226"/>
<polygon points="305.6,971.45 311.1,967.65 316.6,971.45 311.1,975.25" fill="#f2f226"/>
<polygon points="122.6,964.28 128.1,960.48 133.6,964.28 128.1,968.08" fill="#f2f226"/>
<polygon points="309.3,971.45 314.8,967.65 320.3,971.45 314.8,975.25" fill="#f2f226"/>
<polygon points="129.9,964.28 135.4,960.48 140.9,964.28 135.4,968.08" fill="#f2f226"/>
<polygon points="316.7,971.45 322.2,967.65 327.7,971.45 322.2,975.25" fill="#f2f226"/>
<polygon points="203.3,967.3 208.8,963.5 214.3,967.3 208.8,971.1" fill="#f2f226"/>
<polygon points="389.3,968.05 394.8,964.25 400.3,968.05 394.8,971.85" fill="#f2f226"/>
<polygon points="260.5,968.43 266,964.63 271.5,968.43 266,972.23" fill="#f2f226"/>
<polygon points="445.7,968.81 451.2,965.01 456.7,968.81 451.2,972.61" fill="#f2f226"/>
<circle cx="115.5" cy="911.47" r="2.9" fill="#5c5c5c"/>
<circle cx="301.5" cy="933.35" r="2.9" fill="#5c5c5c"/>
<circle cx="120.6" cy="932.22" r="2.9" fill="#5c5c5c"/>
<circle cx="307.5" cy="966.92" r="2.9" fill="#5c5c5c"/>
<circle cx="124.3" cy="923.54" r="2.9" fill="#5c5c5c"/>
<circle cx="311.1" cy="954.85" r="2.9" fill="#5c5c5c"/>
<circle cx="128.1" cy="929.58" r="2.9" fill="#5c5c5c"/>
<circle cx="314.8" cy="945.8" r="2.9" fill="#5c5c5c"/>
<circle cx="135.4" cy="919.77" r="2.9" fill="#5c5c5c"/>
<circle cx="322.2" cy="943.91" r="2.9" fill="#5c5c5c"/>
<circle cx="208.8" cy="926.56" r="2.9" fill="#5c5c5c"/>
<circle cx="394.8" cy="924.68" r="2.9" fill="#5c5c5c"/>
<circle cx="266" cy="877.15" r="2.9" fill="#5c5c5c"/>
<circle cx="451.2" cy="935.99" r="2.9" fill="#5c5c5c"/>
<circle cx="115.5" cy="891.48" r="1.5" fill="#ac6ef2"/>
<circle cx="301.5" cy="962.77" r="1.5" fill="#ac6ef2"/>
<circle cx="120.6" cy="892.99" r="1.5" fill="#ac6ef2"/>
<circle cx="307.5" cy="951.46" r="1.5" fill="#ac6ef2"/>
<circle cx="124.3" cy="883.18" r="1.5" fill="#ac6ef2"/>
<circle cx="311.1" cy="956.74" r="1.5" fill="#ac6ef2"/>
<circle cx="128.1" cy="889.97" r="1.5" fill="#ac6ef2"/>
<circle cx="314.8" cy="962.77" r="1.5" fill="#ac6ef2"/>
<circle cx="135.4" cy="897.52" r="1.5" fill="#ac6ef2"/>
<circle cx="322.2" cy="960.51" r="1.5" fill="#ac6ef2"/>
<circle cx="208.8" cy="925.43" r="1.5" fill="#ac6ef2"/>
<circle cx="394.8" cy="923.54" r="1.5" fill="#ac6ef2"/>
<circle cx="266" cy="872.62" r="1.5" fill="#ac6ef2"/>
<circle cx="451.2" cy="893.75" r="1.5" fill="#ac6ef2"/>
<line x1="111.9" y1="982.39" x2="119.1" y2="982.39" stroke="#1c3a3c" stroke-width="1.9" />
<line x1="115.5" y1="978.59" x2="115.5" y2="986.19" stroke="#1c3a3c" stroke-width="1.9" />
<line x1="297.9" y1="983.52" x2="305.1" y2="983.52" stroke="#1c3a3c" stroke-width="1.9" />
<line x1="301.5" y1="979.72" x2="301.5" y2="987.32" stroke="#1c3a3c" stroke-width="1.9" />
<line x1="117" y1="982.39" x2="124.2" y2="982.39" stroke="#1c3a3c" stroke-width="1.9" />
<line x1="120.6" y1="978.59" x2="120.6" y2="986.19" stroke="#1c3a3c" stroke-width="1.9" />
<line x1="303.9" y1="983.52" x2="311.1" y2="983.52" stroke="#1c3a3c" stroke-width="1.9" />
<line x1="307.5" y1="979.72" x2="307.5" y2="987.32" stroke="#1c3a3c" stroke-width="1.9" />
<line x1="120.7" y1="982.39" x2="127.9" y2="982.39" stroke="#1c3a3c" stroke-width="1.9" />
<line x1="124.3" y1="978.59" x2="124.3" y2="986.19" stroke="#1c3a3c" stroke-width="1.9" />
<line x1="307.5" y1="983.52" x2="314.7" y2="983.52" stroke="#1c3a3c" stroke-width="1.9" />
<line x1="311.1" y1="979.72" x2="311.1" y2="987.32" stroke="#1c3a3c" stroke-width="1.9" />
<line x1="124.5" y1="982.39" x2="131.7" y2="982.39" stroke="#1c3a3c" stroke-width="1.9" />
<line x1="128.1" y1="978.59" x2="128.1" y2="986.19" stroke="#1c3a3c" stroke-width="1.9" />
<line x1="311.2" y1="983.52" x2="318.4" y2="983.52" stroke="#1c3a3c" stroke-width="1.9" />
<line x1="314.8" y1="979.72" x2="314.8" y2="987.32" stroke="#1c3a3c" stroke-width="1.9" />
<line x1="131.8" y1="982.39" x2="139" y2="982.39" stroke="#1c3a3c" stroke-width="1.9" />
<line x1="135.4" y1="978.59" x2="135.4" y2="986.19" stroke="#1c3a3c" stroke-width="1.9" />
<line x1="318.6" y1="983.52" x2="325.8" y2="983.52" stroke="#1c3a3c" stroke-width="1.9" />
<line x1="322.2" y1="979.72" x2="322.2" y2="987.32" stroke="#1c3a3c" stroke-width="1.9" />
<line x1="205.2" y1="982.39" x2="212.4" y2="982.39" stroke="#1c3a3c" stroke-width="1.9" />
<line x1="208.8" y1="978.59" x2="208.8" y2="986.19" stroke="#1c3a3c" stroke-width="1.9" />
<line x1="391.2" y1="982.76" x2="398.4" y2="982.76" stroke="#1c3a3c" stroke-width="1.9" />
<line x1="394.8" y1="978.96" x2="394.8" y2="986.56" stroke="#1c3a3c" stroke-width="1.9" />
<line x1="262.4" y1="982.76" x2="269.6" y2="982.76" stroke="#1c3a3c" stroke-width="1.9" />
<line x1="266" y1="978.96" x2="266" y2="986.56" stroke="#1c3a3c" stroke-width="1.9" />
<line x1="447.6" y1="984.27" x2="454.8" y2="984.27" stroke="#1c3a3c" stroke-width="1.9" />
<line x1="451.2" y1="980.47" x2="451.2" y2="988.07" stroke="#1c3a3c" stroke-width="1.9" />
<line x1="112.5" y1="940.54" x2="118.5" y2="946.54" stroke="#c89b6a" stroke-width="1.4" />
<line x1="112.5" y1="946.54" x2="118.5" y2="940.54" stroke="#c89b6a" stroke-width="1.4" />
<line x1="112.1" y1="943.54" x2="118.9" y2="943.54" stroke="#c89b6a" stroke-width="1.2" />
<line x1="298.5" y1="891.88" x2="304.5" y2="897.88" stroke="#c89b6a" stroke-width="1.4" />
<line x1="298.5" y1="897.88" x2="304.5" y2="891.88" stroke="#c89b6a" stroke-width="1.4" />
<line x1="298.1" y1="894.88" x2="304.9" y2="894.88" stroke="#c89b6a" stroke-width="1.2" />
<line x1="117.6" y1="892.25" x2="123.6" y2="898.25" stroke="#c89b6a" stroke-width="1.4" />
<line x1="117.6" y1="898.25" x2="123.6" y2="892.25" stroke="#c89b6a" stroke-width="1.4" />
<line x1="117.2" y1="895.25" x2="124" y2="895.25" stroke="#c89b6a" stroke-width="1.2" />
<line x1="304.5" y1="911.87" x2="310.5" y2="917.87" stroke="#c89b6a" stroke-width="1.4" />
<line x1="304.5" y1="917.87" x2="310.5" y2="911.87" stroke="#c89b6a" stroke-width="1.4" />
<line x1="304.1" y1="914.87" x2="310.9" y2="914.87" stroke="#c89b6a" stroke-width="1.2" />
<line x1="121.3" y1="911.11" x2="127.3" y2="917.11" stroke="#c89b6a" stroke-width="1.4" />
<line x1="121.3" y1="917.11" x2="127.3" y2="911.11" stroke="#c89b6a" stroke-width="1.4" />
<line x1="120.9" y1="914.11" x2="127.7" y2="914.11" stroke="#c89b6a" stroke-width="1.2" />
<line x1="308.1" y1="907.34" x2="314.1" y2="913.34" stroke="#c89b6a" stroke-width="1.4" />
<line x1="308.1" y1="913.34" x2="314.1" y2="907.34" stroke="#c89b6a" stroke-width="1.4" />
<line x1="307.7" y1="910.34" x2="314.5" y2="910.34" stroke="#c89b6a" stroke-width="1.2" />
<line x1="125.1" y1="909.23" x2="131.1" y2="915.23" stroke="#c89b6a" stroke-width="1.4" />
<line x1="125.1" y1="915.23" x2="131.1" y2="909.23" stroke="#c89b6a" stroke-width="1.4" />
<line x1="124.7" y1="912.23" x2="131.5" y2="912.23" stroke="#c89b6a" stroke-width="1.2" />
<line x1="311.8" y1="928.09" x2="317.8" y2="934.09" stroke="#c89b6a" stroke-width="1.4" />
<line x1="311.8" y1="934.09" x2="317.8" y2="928.09" stroke="#c89b6a" stroke-width="1.4" />
<line x1="311.4" y1="931.09" x2="318.2" y2="931.09" stroke="#c89b6a" stroke-width="1.2" />
<line x1="132.4" y1="861.32" x2="138.4" y2="867.32" stroke="#c89b6a" stroke-width="1.4" />
<line x1="132.4" y1="867.32" x2="138.4" y2="861.32" stroke="#c89b6a" stroke-width="1.4" />
<line x1="132" y1="864.32" x2="138.8" y2="864.32" stroke="#c89b6a" stroke-width="1.2" />
<line x1="319.2" y1="911.11" x2="325.2" y2="917.11" stroke="#c89b6a" stroke-width="1.4" />
<line x1="319.2" y1="917.11" x2="325.2" y2="911.11" stroke="#c89b6a" stroke-width="1.4" />
<line x1="318.8" y1="914.11" x2="325.6" y2="914.11" stroke="#c89b6a" stroke-width="1.2" />
<line x1="205.8" y1="874.15" x2="211.8" y2="880.15" stroke="#c89b6a" stroke-width="1.4" />
<line x1="205.8" y1="880.15" x2="211.8" y2="874.15" stroke="#c89b6a" stroke-width="1.4" />
<line x1="205.4" y1="877.15" x2="212.2" y2="877.15" stroke="#c89b6a" stroke-width="1.2" />
<line x1="391.8" y1="913.75" x2="397.8" y2="919.75" stroke="#c89b6a" stroke-width="1.4" />
<line x1="391.8" y1="919.75" x2="397.8" y2="913.75" stroke="#c89b6a" stroke-width="1.4" />
<line x1="391.4" y1="916.75" x2="398.2" y2="916.75" stroke="#c89b6a" stroke-width="1.2" />
<line x1="263" y1="848.88" x2="269" y2="854.88" stroke="#c89b6a" stroke-width="1.4" />
<line x1="263" y1="854.88" x2="269" y2="848.88" stroke="#c89b6a" stroke-width="1.4" />
<line x1="262.6" y1="851.88" x2="269.4" y2="851.88" stroke="#c89b6a" stroke-width="1.2" />
<line x1="448.2" y1="931.11" x2="454.2" y2="937.11" stroke="#c89b6a" stroke-width="1.4" />
<line x1="448.2" y1="937.11" x2="454.2" y2="931.11" stroke="#c89b6a" stroke-width="1.4" />
<line x1="447.8" y1="934.11" x2="454.6" y2="934.11" stroke="#c89b6a" stroke-width="1.2" />
<line x1="472.1" y1="773.9" x2="488.7" y2="773.9" stroke="#a06c3e" stroke-width="2.0" />
<polygon points="480.4,771.3 482.87,773.1 481.93,776 478.87,776 477.93,773.1" fill="#a06c3e"/>
<text x="494.8" y="779.4" font-size="15.3" text-anchor="start" font-weight="bold" fill="#000"  style="">3</text>
<line x1="472.1" y1="791.37" x2="488.7" y2="791.37" stroke="#3ce6ee" stroke-width="2.0" />
<circle cx="480.4" cy="791.37" r="1.9" fill="#3ce6ee"/>
<text x="494.8" y="796.87" font-size="15.3" text-anchor="start" font-weight="bold" fill="#000"  style="">4</text>
<line x1="472.1" y1="808.84" x2="488.7" y2="808.84" stroke="#22d422" stroke-width="2.0" />
<circle cx="480.4" cy="808.84" r="1.9" fill="#22d422"/>
<text x="494.8" y="814.34" font-size="15.3" text-anchor="start" font-weight="bold" fill="#000"  style="">5</text>
<line x1="472.1" y1="826.31" x2="488.7" y2="826.31" stroke="#e020e0" stroke-width="2.0" />
<circle cx="480.4" cy="826.31" r="3.4" fill="#f048f0" stroke="#e020e0" stroke-width="1.2"/>
<text x="494.8" y="831.81" font-size="15.3" text-anchor="start" font-weight="bold" fill="#000"  style="">6</text>
<line x1="472.1" y1="843.78" x2="488.7" y2="843.78" stroke="#ee8420" stroke-width="2.0" />
<rect x="476.8" y="840.28" width="7.2" height="7" rx="1.6" fill="#f28c26" stroke="#ee8420" stroke-width="1"/>
<text x="494.8" y="849.28" font-size="15.3" text-anchor="start" font-weight="bold" fill="#000"  style="">7</text>
<line x1="472.1" y1="861.25" x2="488.7" y2="861.25" stroke="#681870" stroke-width="2.0" />
<polygon points="480.4,857.85 483.63,860.2 482.4,864 478.4,864 477.17,860.2" fill="#681870" stroke="#681870" stroke-width="0.8"/>
<text x="494.8" y="866.75" font-size="15.3" text-anchor="start" font-weight="bold" fill="#000"  style="">8</text>
<line x1="472.1" y1="878.72" x2="488.7" y2="878.72" stroke="#e0101e" stroke-width="2.0" />
<polygon points="483.52,880.37 480.4,882.02 477.28,880.37 477.28,877.07 480.4,875.42 483.52,877.07" fill="#e0101e"/>
<text x="494.8" y="884.22" font-size="15.3" text-anchor="start" font-weight="bold" fill="#000"  style="">9</text>
<line x1="472.1" y1="896.19" x2="488.7" y2="896.19" stroke="#f2f226" stroke-width="2.0" />
<polygon points="474.9,896.19 480.4,892.39 485.9,896.19 480.4,899.99" fill="#f2f226"/>
<text x="494.8" y="901.69" font-size="15.3" text-anchor="start" font-weight="bold" fill="#000"  style="">10</text>
<line x1="472.1" y1="913.66" x2="488.7" y2="913.66" stroke="#5c5c5c" stroke-width="2.0" />
<circle cx="480.4" cy="913.66" r="2.9" fill="#5c5c5c"/>
<text x="494.8" y="919.16" font-size="15.3" text-anchor="start" font-weight="bold" fill="#000"  style="">11</text>
<line x1="472.1" y1="931.13" x2="488.7" y2="931.13" stroke="#ac6ef2" stroke-width="2.0" />
<circle cx="480.4" cy="931.13" r="1.5" fill="#ac6ef2"/>
<text x="494.8" y="936.63" font-size="15.3" text-anchor="start" font-weight="bold" fill="#000"  style="">12</text>
<line x1="472.1" y1="948.6" x2="488.7" y2="948.6" stroke="#1c3a3c" stroke-width="2.0" />
<line x1="476.8" y1="948.6" x2="484" y2="948.6" stroke="#1c3a3c" stroke-width="1.9" />
<line x1="480.4" y1="944.8" x2="480.4" y2="952.4" stroke="#1c3a3c" stroke-width="1.9" />
<text x="494.8" y="954.1" font-size="15.3" text-anchor="start" font-weight="bold" fill="#000"  style="">13</text>
<line x1="472.1" y1="966.07" x2="488.7" y2="966.07" stroke="#c89b6a" stroke-width="2.0" />
<line x1="477.4" y1="963.07" x2="483.4" y2="969.07" stroke="#c89b6a" stroke-width="1.4" />
<line x1="477.4" y1="969.07" x2="483.4" y2="963.07" stroke="#c89b6a" stroke-width="1.4" />
<line x1="477" y1="966.07" x2="483.8" y2="966.07" stroke="#c89b6a" stroke-width="1.2" />
<text x="494.8" y="971.57" font-size="15.3" text-anchor="start" font-weight="bold" fill="#000"  style="">14</text>
</svg></body></html>
